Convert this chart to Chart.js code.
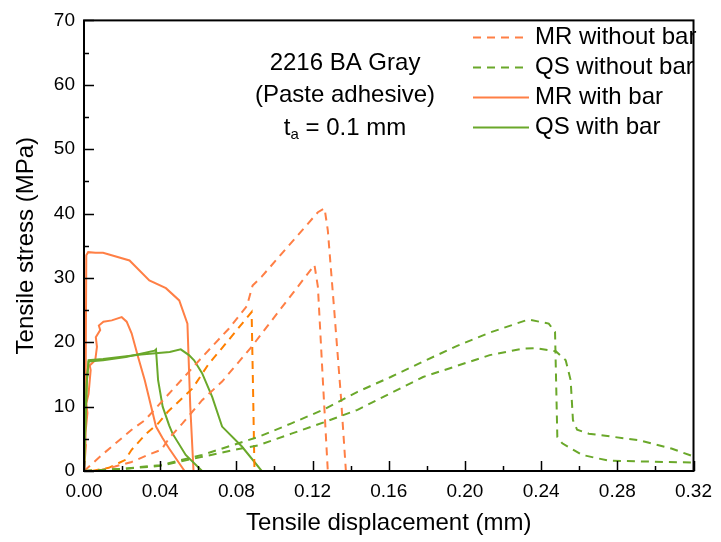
<!DOCTYPE html>
<html><head><meta charset="utf-8">
<script src="https://cdn.jsdelivr.net/npm/chart.js@4.4.1/dist/chart.umd.min.js"></script>
<style>html,body{margin:0;padding:0;background:#fff;}</style>
</head><body>
<canvas id="c" width="721" height="542" style="display:block;width:721px;height:542px"></canvas>
<script>
// ---- data ----
const xTicks = [0, 0.04, 0.08, 0.12, 0.16, 0.20, 0.24, 0.28, 0.32];
const yTicks = [0, 10, 20, 30, 40, 50, 60, 70];

// MR without bar (3 specimens, dashed)
const mrNoBar1X = [0, 0.0094, 0.025, 0.032, 0.063, 0.076, 0.0855, 0.0885, 0.0933, 0.1228, 0.1263, 0.128, 0.1315, 0.1349, 0.1375];
const mrNoBar1Y = [0, 2.5, 6.4, 7.9, 18.0, 22.1, 25.6, 28.8, 30.2, 40.2, 40.8, 37.4, 24.5, 11.5, 0];
const mrNoBar2X = [0, 0.0094, 0.0163, 0.025, 0.0336, 0.0406, 0.0447, 0.0517, 0.062, 0.0725, 0.088, 0.0968, 0.121, 0.1228, 0.1254, 0.128];
const mrNoBar2Y = [0, 0.2, 0.7, 1.4, 2.5, 3.3, 5.1, 7.4, 11.0, 13.9, 19.3, 22.7, 32.0, 28.6, 14.1, 0];
const mrNoBar3X = [0.004, 0.013, 0.0215, 0.025, 0.032, 0.039, 0.044, 0.0569, 0.0656, 0.0708, 0.088, 0.0888, 0.0895];
const mrNoBar3Y = [0, 0.5, 1.7, 3.3, 5.6, 7.4, 9.2, 12.8, 16.7, 18.5, 24.7, 12.0, 0];

// QS without bar (2 specimens, dashed)
const qsNoBar1X = [0, 0.0059, 0.02, 0.04, 0.062, 0.0916, 0.1089, 0.1263, 0.1436, 0.161, 0.178, 0.1956, 0.213, 0.232, 0.2338, 0.244, 0.2473, 0.2485, 0.2511, 0.2615, 0.2754, 0.3205];
const qsNoBar1Y = [0, 0.1, 0.35, 0.9, 2.5, 5.3, 7.4, 9.6, 12.3, 14.6, 17.0, 19.4, 21.5, 23.4, 23.5, 22.9, 21.6, 5.3, 4.3, 2.5, 1.6, 1.3];
const qsNoBar2X = [0, 0.0059, 0.02, 0.04, 0.062, 0.0794, 0.0916, 0.1089, 0.1263, 0.1436, 0.178, 0.213, 0.2303, 0.237, 0.2477, 0.2529, 0.2555, 0.2567, 0.2589, 0.265, 0.291, 0.3084, 0.3205];
const qsNoBar2Y = [0, 0.1, 0.3, 0.8, 2.2, 3.3, 4.0, 5.8, 7.6, 9.5, 14.6, 18.0, 19.0, 19.1, 18.6, 17.2, 14.1, 7.9, 6.4, 5.8, 4.8, 3.5, 2.2];

// MR with bar (2 specimens, solid)
const mrBar1X = [0, 0.0008, 0.0012, 0.0022, 0.006, 0.010, 0.0239, 0.0343, 0.043, 0.050, 0.0543, 0.0558, 0.0575];
const mrBar1Y = [0, 10, 33.5, 34.0, 33.9, 33.9, 32.7, 29.6, 28.4, 26.5, 22.9, 10, 0];
const mrBar2X = [0, 0.001, 0.0008, 0.0018, 0.0012, 0.0024, 0.0035, 0.003, 0.0059, 0.0068, 0.0062, 0.0085, 0.0078, 0.0102, 0.0146, 0.0198, 0.0224, 0.025, 0.0284, 0.0319, 0.0378, 0.0413, 0.0447, 0.0528];
const mrBar2Y = [0, 4, 6, 9, 10.5, 12, 15.7, 16.4, 17.2, 19.3, 20.8, 21.9, 22.6, 23.2, 23.4, 23.9, 23.2, 21.4, 17.7, 14.1, 6.9, 5.1, 3.5, 0];

// QS with bar (2 specimens, solid)
const qsBar1X = [0, 0.0008, 0.0015, 0.0024, 0.010, 0.022, 0.0371, 0.0378, 0.0389, 0.0413, 0.0447, 0.0465, 0.0534, 0.062];
const qsBar1Y = [0, 8, 14, 17.0, 17.2, 17.7, 18.7, 18.9, 14.1, 10.0, 7.1, 5.8, 2.5, 0];
const qsBar2X = [0, 0.0008, 0.0015, 0.0024, 0.010, 0.030, 0.045, 0.0508, 0.0551, 0.0578, 0.062, 0.0673, 0.0725, 0.0829, 0.0933];
const qsBar2Y = [0, 8, 14, 17.2, 17.4, 18.1, 18.5, 18.9, 18.0, 17.2, 15.2, 11.5, 6.9, 3.8, 0];

const legendLabels = ['MR without bar', 'QS without bar', 'MR with bar', 'QS with bar'];
const noteLines = ['2216 BA Gray', '(Paste adhesive)'];

// ---- styles ----
const ORANGE = '#ff7f45';
const ORANGE_DARK = '#ff8000';
const GREEN = '#6aa82a';
const DASH = [8, 6];
const FONT = '"Liberation Sans", Arial, sans-serif';

function pts(xs, ys) { return xs.map((x, i) => ({x: x, y: ys[i]})); }
function ds(label, xs, ys, color, dashed) {
  return {label: label, data: pts(xs, ys), borderColor: color, backgroundColor: color,
    borderWidth: 2, borderDash: dashed ? DASH : [], pointRadius: 0, showLine: true,
    tension: 0, fill: false};
}

const datasets = [
  ds('QS without bar', qsNoBar1X, qsNoBar1Y, GREEN, true),
  ds('QS without bar', qsNoBar2X, qsNoBar2Y, GREEN, true),
  ds('MR without bar', mrNoBar1X, mrNoBar1Y, ORANGE, true),
  ds('MR without bar', mrNoBar2X, mrNoBar2Y, ORANGE, true),
  ds('MR without bar', mrNoBar3X, mrNoBar3Y, ORANGE_DARK, true),
  ds('QS with bar', qsBar1X, qsBar1Y, GREEN, false),
  ds('QS with bar', qsBar2X, qsBar2Y, GREEN, false),
  ds('MR with bar', mrBar1X, mrBar1Y, ORANGE, false),
  ds('MR with bar', mrBar2X, mrBar2Y, ORANGE, false)
];

const legendStyles = [
  {color: ORANGE, dash: DASH}, {color: GREEN, dash: DASH},
  {color: ORANGE, dash: []}, {color: GREEN, dash: []}
];

const framePlugin = {
  id: 'frame',
  afterDatasetsDraw(chart) {
    const {ctx, chartArea: a, scales: {x, y}} = chart;
    ctx.save();
    ctx.strokeStyle = '#000';
    ctx.lineWidth = 2;
    ctx.setLineDash([]);
    ctx.strokeRect(a.left, a.top, a.right - a.left, a.bottom - a.top);
    ctx.lineWidth = 1.5;
    ctx.beginPath();
    for (let v = 0; v <= 0.32 + 1e-9; v += 0.02) {
      const px = Math.round(x.getPixelForValue(v)) + 0.5;
      const major = Math.abs(v / 0.04 - Math.round(v / 0.04)) < 1e-6;
      ctx.moveTo(px, a.bottom);
      ctx.lineTo(px, a.bottom - (major ? 10 : 5));
    }
    for (let v = 0; v <= 70; v += 5) {
      const py = Math.round(y.getPixelForValue(v)) + 0.5;
      const major = v % 10 === 0;
      ctx.moveTo(a.left, py);
      ctx.lineTo(a.left + (major ? 10 : 5), py);
    }
    ctx.stroke();
    ctx.restore();
  },
  afterDraw(chart) {
    const {ctx} = chart;
    ctx.save();
    // legend
    ctx.font = '24px ' + FONT;
    ctx.textBaseline = 'middle';
    ctx.textAlign = 'left';
    legendLabels.forEach((lab, i) => {
      const yy = 37.5 + i * 30;
      ctx.strokeStyle = legendStyles[i].color;
      ctx.lineWidth = 2;
      ctx.setLineDash(legendStyles[i].dash);
      ctx.beginPath();
      ctx.moveTo(473, yy);
      ctx.lineTo(529, yy);
      ctx.stroke();
      ctx.fillStyle = '#000';
      ctx.fillText(lab, 535, yy);
    });
    ctx.setLineDash([]);
    // annotation
    const cx = 345;
    ctx.textAlign = 'center';
    ctx.fillStyle = '#000';
    ctx.fillText(noteLines[0], cx, 63);
    ctx.fillText(noteLines[1], cx, 95);
    // t_a = 0.1 mm
    ctx.textAlign = 'left';
    ctx.textBaseline = 'alphabetic';
    const big = '24px ' + FONT, small = '15px ' + FONT;
    ctx.font = big; const wT = ctx.measureText('t').width;
    const rest = ' = 0.1 mm'; const wR = ctx.measureText(rest).width;
    ctx.font = small; const wA = ctx.measureText('a').width;
    let sx = cx - (wT + wA + wR) / 2;
    const base = 135;
    ctx.font = big; ctx.fillText('t', sx, base); sx += wT;
    ctx.font = small; ctx.fillText('a', sx, base + 4); sx += wA;
    ctx.font = big; ctx.fillText(rest, sx, base);
    ctx.restore();
  }
};

new Chart(document.getElementById('c'), {
  type: 'scatter',
  data: {datasets: datasets},
  options: {
    responsive: false,
    devicePixelRatio: 1,
    animation: false,
    layout: {padding: {top: 20, right: 22, left: 0, bottom: 0}},
    plugins: {legend: {display: false}, tooltip: {enabled: false}},
    scales: {
      x: {
        type: 'linear', min: 0, max: 0.32,
        afterBuildTicks(scale) { scale.ticks = xTicks.map(v => ({value: v})); },
        ticks: {callback: v => v.toFixed(2), font: {family: FONT, size: 19}, color: '#000', padding: 9, maxRotation: 0, autoSkip: false},
        grid: {display: false, drawTicks: false},
        border: {display: false},
        title: {display: true, text: 'Tensile displacement (mm)', font: {family: FONT, size: 24}, color: '#000', padding: {top: 0, bottom: 4}},
        afterFit(scale) { scale.height = 71; }
      },
      y: {
        type: 'linear', min: 0, max: 70,
        afterBuildTicks(scale) { scale.ticks = yTicks.map(v => ({value: v})); },
        ticks: {font: {family: FONT, size: 19}, color: '#000', padding: 9, autoSkip: false},
        grid: {display: false, drawTicks: false},
        border: {display: false},
        title: {display: true, text: 'Tensile stress (MPa)', font: {family: FONT, size: 24}, color: '#000', padding: {top: 12, bottom: 0}},
        afterFit(scale) { scale.width = 84; }
      }
    }
  },
  plugins: [framePlugin]
});
</script>
</body></html>
